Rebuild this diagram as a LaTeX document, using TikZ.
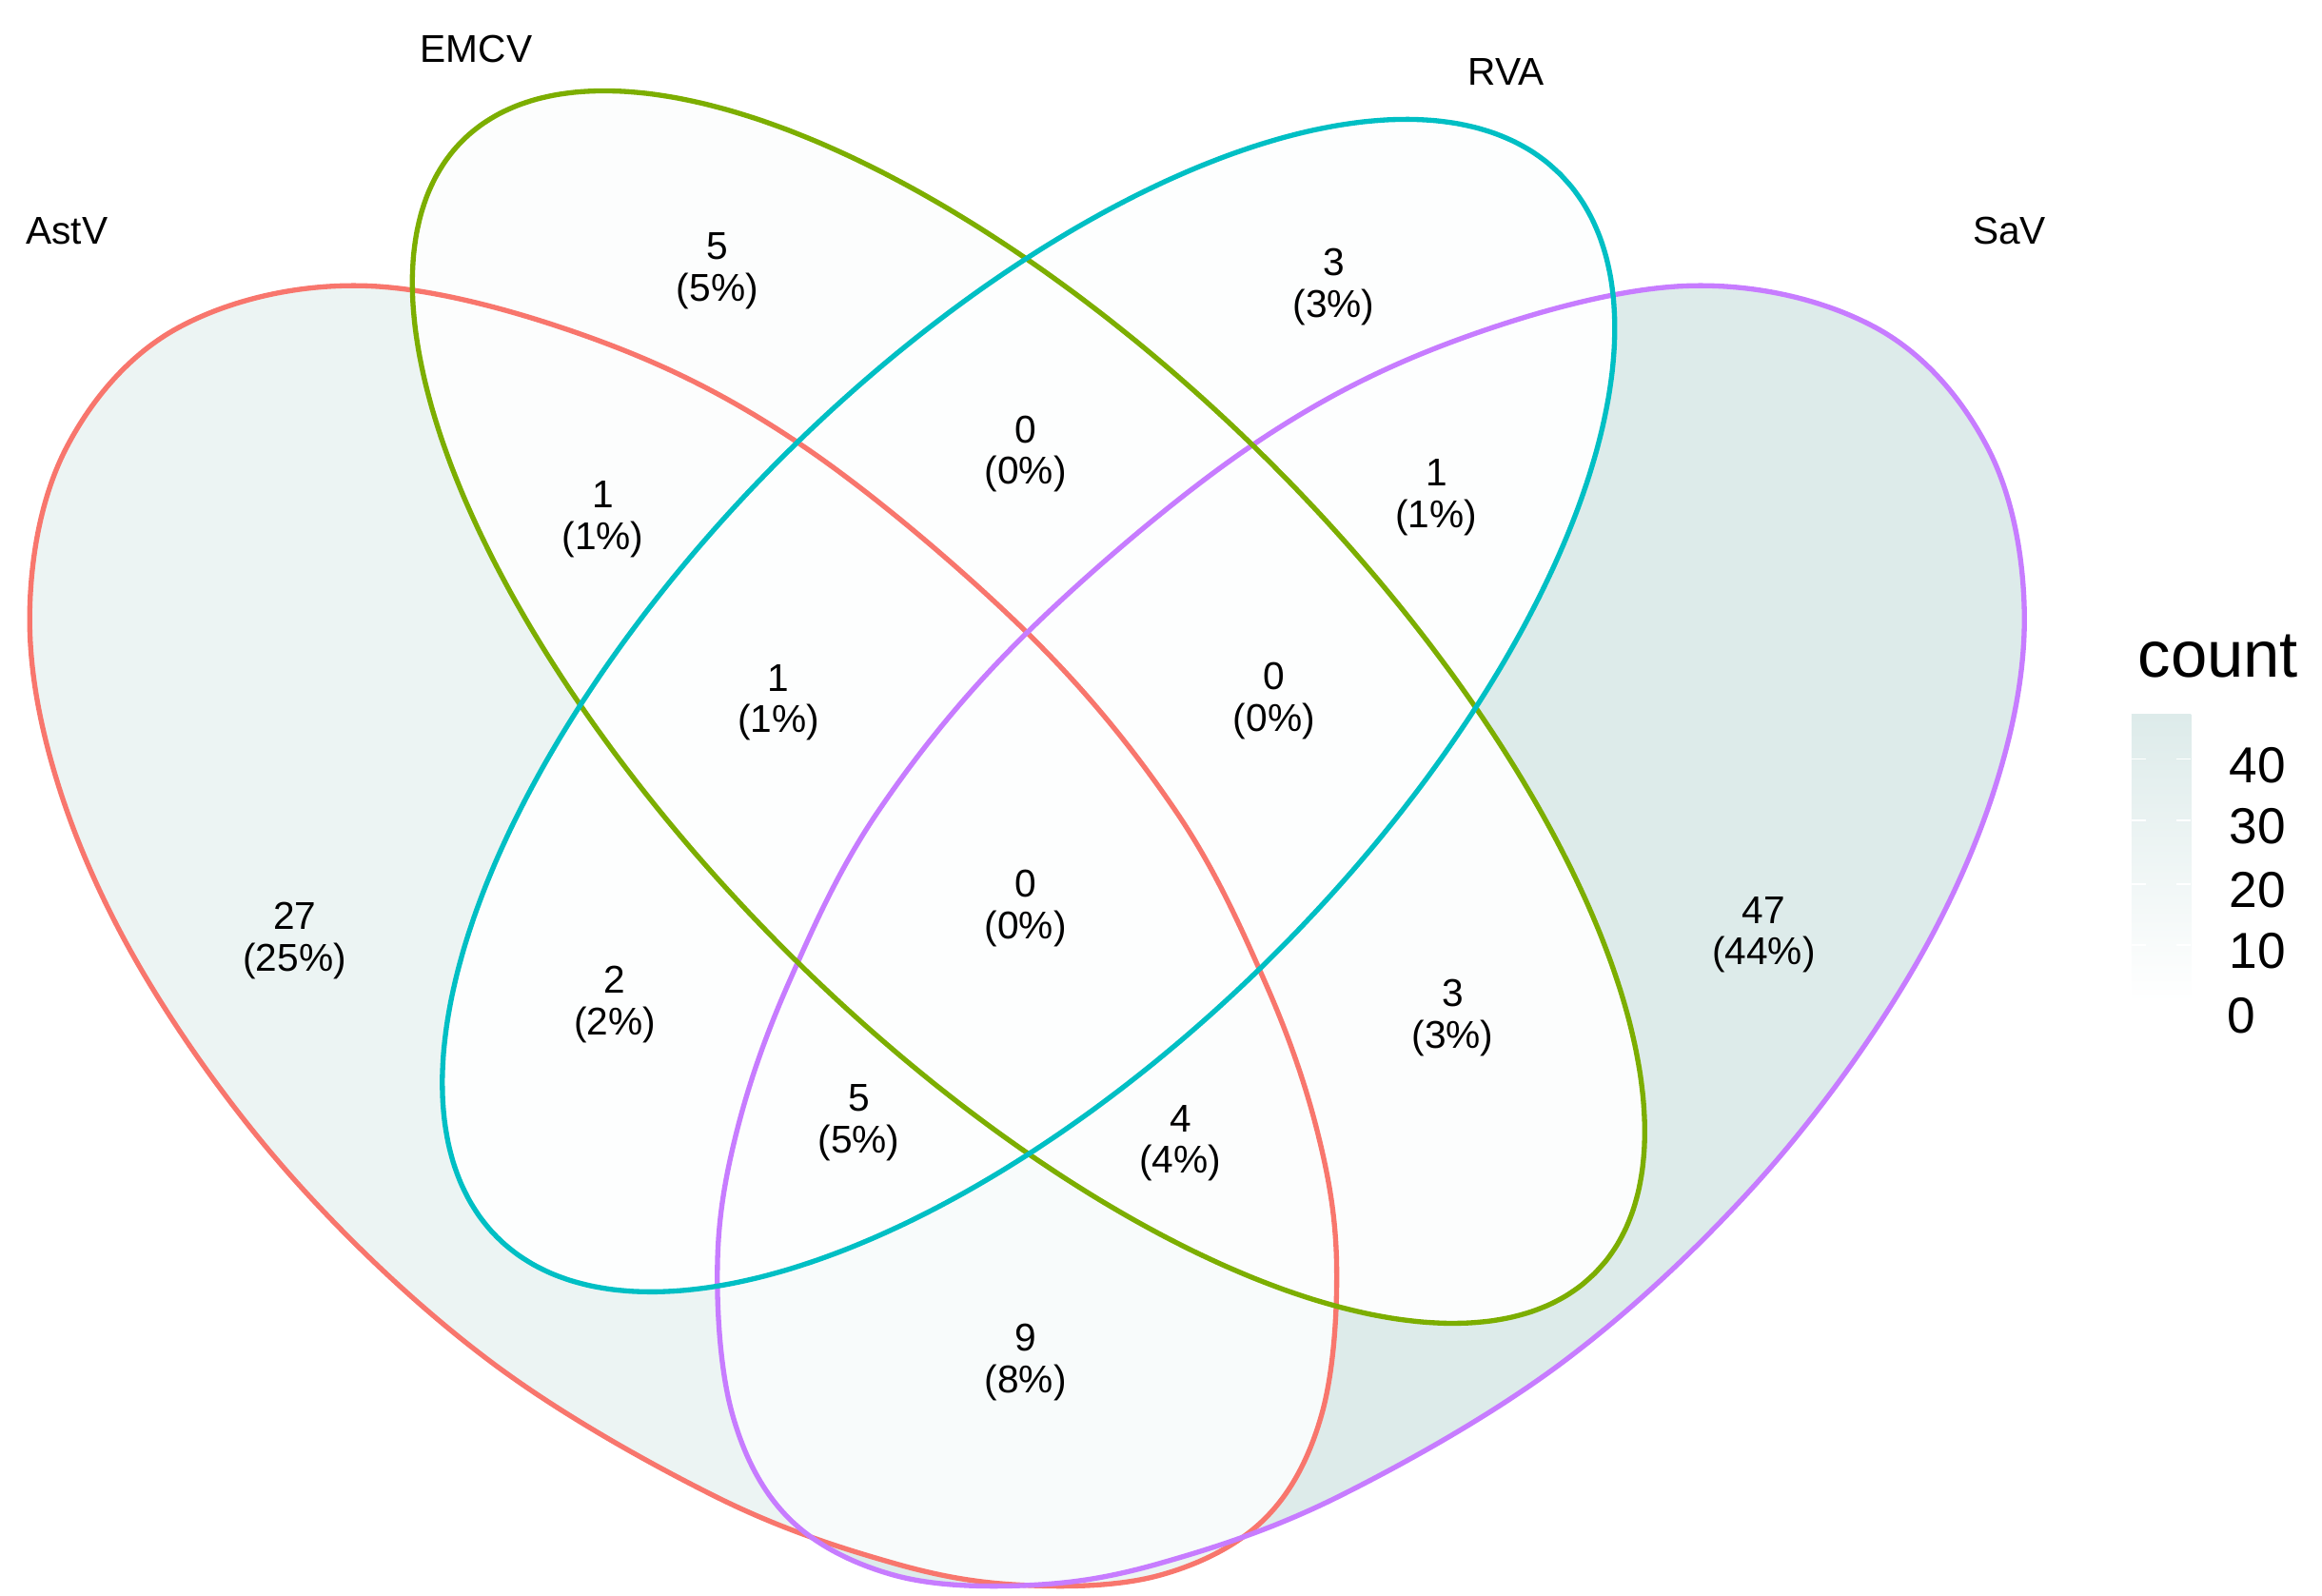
\documentclass[tikz,border=0pt]{standalone}
\usepackage{fontspec}
\setmainfont{Liberation Sans}
\begin{document}
\definecolor{hi}{RGB}{221,235,234}
\definecolor{cR}{HTML}{F8766D}
\definecolor{cG}{HTML}{7CAE00}
\definecolor{cC}{HTML}{00BFC4}
\definecolor{cP}{HTML}{C77CFF}
\begin{tikzpicture}[x=0.5pt,y=-0.5pt,
  lab/.style={align=center,font=\fontsize{13}{14}\selectfont,inner sep=0pt},
  setname/.style={font=\fontsize{13}{14}\selectfont,inner sep=0pt},
  outline/.style={line width=1.7pt}]
\useasboundingbox (0,0) rectangle (1560,1072);
\def\redpath{plot[smooth cycle,tension=0.6] coordinates{(245,192)(400,228)(540,300)(690,425)(790,545)(850,660)(885,760)(898,850)(888,950)(850,1020)(780,1058)(690,1065)(600,1050)(480,1005)(330,915)(200,795)(100,660)(40,530)(20,410)(45,300)(120,220)}}
\def\purpath{plot[smooth cycle,tension=0.6] coordinates{(1135,192)(980,228)(840,300)(690,425)(590,545)(530,660)(495,760)(482,850)(492,950)(530,1020)(600,1058)(690,1065)(780,1050)(900,1005)(1050,915)(1180,795)(1280,660)(1340,530)(1360,410)(1335,300)(1260,220)}}
\def\grnpath{plot[domain=0:360,samples=120,smooth cycle] ({691+538*cos(\x)*cos(45)-231*sin(\x)*sin(45)},{475+538*cos(\x)*sin(45)+231*sin(\x)*cos(45)})}
\def\cyapath{plot[domain=0:360,samples=120,smooth cycle] ({691+505*cos(\x)*cos(-45)-235*sin(\x)*sin(-45)},{474+505*cos(\x)*sin(-45)+235*sin(\x)*cos(-45)})}
% fills
\fill[hi!57!white] \redpath;
\fill[hi] \purpath;
\begin{scope}\clip \redpath; \fill[hi!20!white] \purpath; \end{scope}
\fill[hi!8!white] \grnpath;
\fill[hi!6!white] \cyapath;
% outlines
\draw[outline,cR] \redpath;
\draw[outline,cP] \purpath;
\draw[outline,cG] \grnpath;
\draw[outline,cC] \cyapath;
% set names
\node[setname] (nA) at (45,155) {AstV};
\node[setname] (nE) at (320,33) {EMCV};
\node[setname] (nR) at (1012,48) {RVA};
\node[setname] (nS) at (1350,155) {SaV};
% region labels
\node[lab] (r1) at (482,182) {5\\(5\%)};
\node[lab] (r2) at (896,193) {3\\(3\%)};
\node[lab] (r3) at (689,305) {0\\(0\%)};
\node[lab] (r4) at (405,349) {1\\(1\%)};
\node[lab] (r5) at (965,334) {1\\(1\%)};
\node[lab] (r6) at (523,472) {1\\(1\%)};
\node[lab] (r7) at (856,471) {0\\(0\%)};
\node[lab] (r8) at (689,610) {0\\(0\%)};
\node[lab] (r9) at (198,632) {27\\(25\%)};
\node[lab] (r10) at (1185,628) {47\\(44\%)};
\node[lab] (r11) at (413,675) {2\\(2\%)};
\node[lab] (r12) at (976,684) {3\\(3\%)};
\node[lab] (r13) at (577,754) {5\\(5\%)};
\node[lab] (r14) at (793,768) {4\\(4\%)};
\node[lab] (r15) at (689,915) {9\\(8\%)};
% legend
\node[inner sep=0pt,anchor=west,font=\fontsize{22}{24}\selectfont] (lt) at (1436,441) {count};
\shade[top color=hi,bottom color=white] (1432,480) rectangle (1472,673);
\foreach \v/\yy in {40/510,30/551,20/594,10/635}{
  \draw[white,line width=0.5pt] (1432,\yy) -- (1442,\yy) (1462,\yy) -- (1472,\yy);
  \node[anchor=east,inner sep=0pt,font=\fontsize{17}{18}\selectfont] at (1536,\yy+4) {\v};
}
\node[anchor=east,inner sep=0pt,font=\fontsize{17}{18}\selectfont] (l0) at (1516,682) {0};
\end{tikzpicture}
\end{document}
